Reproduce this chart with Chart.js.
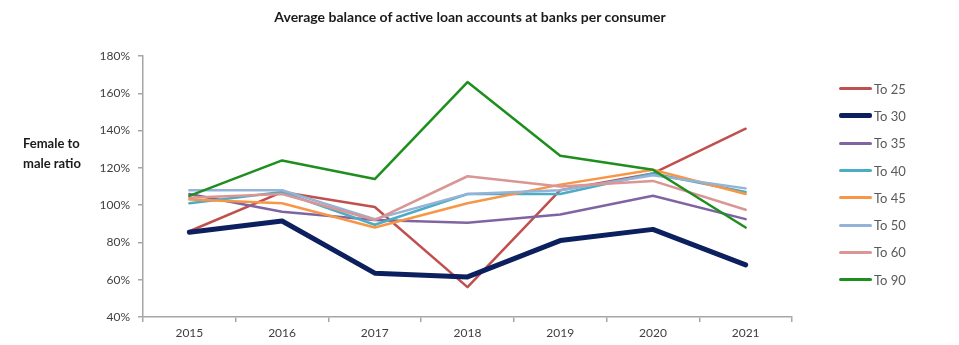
<!DOCTYPE html>
<html>
<head>
<meta charset="utf-8">
<script src="https://cdn.jsdelivr.net/npm/chart.js@4/dist/chart.umd.min.js"></script>
<style>
  html, body { margin: 0; padding: 0; background: #fff; }
  #wrap { position: relative; width: 959px; height: 345px; font-family: Lato, "Open Sans", sans-serif; }
  #chart { position: absolute; left: 0; top: 0; }
  #title { position: absolute; left: 0; top: 8px; width: 940px; text-align: center; font-weight: bold; font-size: 14px; color: #1a1a1a; }
  #ytitle { position: absolute; left: 23px; top: 133px; font-weight: bold; font-size: 13px; line-height: 20px; color: #1a1a1a; }
  #legend { position: absolute; left: 839px; top: 75px; list-style: none; margin: 0; padding: 0; }
  #legend li { height: 27.3px; display: flex; align-items: center; font-size: 13px; color: #595959; }
  #legend .swatch { width: 33px; margin-right: 2px; border-radius: 2px; }
</style>
</head>
<body>
<div id="wrap">
  <canvas id="chart" width="959" height="345"></canvas>
  <div id="title">Average balance of active loan accounts at banks per consumer</div>
  <div id="ytitle">Female to<br>male ratio</div>
  <ul id="legend"></ul>
</div>
<script>
const years = ["2015", "2016", "2017", "2018", "2019", "2020", "2021"];

const seriesNames = ["To 25", "To 30", "To 35", "To 40", "To 45", "To 50", "To 60", "To 90"];

// female to male ratio, in percent
const to25 = [86, 107, 99, 56, 108, 117, 141];
const to30 = [85.5, 91.5, 63.5, 61.5, 81, 87, 68];
const to35 = [106, 96.5, 92, 90.5, 95, 105, 92.5];
const to40 = [101, 107, 89.5, 106, 106, 117, 107];
const to45 = [103, 101, 88, 101, 111, 119, 106];
const to50 = [108, 108, 92.5, 106, 108, 116, 109];
const to60 = [104, 106, 92, 115.5, 110, 113, 97.5];
const to90 = [105, 124, 114, 166, 126.5, 119, 88];

const yTicks = [40, 60, 80, 100, 120, 140, 160, 180];

const seriesValues = [to25, to30, to35, to40, to45, to50, to60, to90];
const colors = ["#C0504D", "#0C1F5E", "#8064A2", "#4BACC6", "#F79646", "#95B3D7", "#D99694", "#1E8F1E"];
const widths = [2.5, 5, 2.5, 2.5, 2.5, 2.5, 2.5, 2.5];

const datasets = seriesNames.map((name, i) => ({
	label: name,
	data: seriesValues[i],
	borderColor: colors[i],
	backgroundColor: colors[i],
	borderWidth: widths[i],
	pointRadius: 0,
	tension: 0,
	borderJoinStyle: "round",
	borderCapStyle: "round",
	fill: false,
	// later series sit on top
	order: seriesNames.length - i,
}));

const axisGray = "#A6A6A6";
const tickFont = { family: "Lato", size: 12 };

const config = {
	type: "line",
	data: { labels: years, datasets },
	options: {
		responsive: false,
		animation: false,
		layout: {
			padding: { left: 83, right: 167, top: 56, bottom: 4 },
		},
		plugins: {
			legend: { display: false },
			tooltip: { enabled: false },
		},
		scales: {
			x: {
				offset: true,
				grid: {
					offset: true,
					drawOnChartArea: false,
					drawTicks: true,
					tickLength: 5,
					color: axisGray,
					lineWidth: 1.5,
				},
				border: { color: axisGray, width: 1.5 },
				ticks: { color: "#404040", font: tickFont, padding: 4, maxRotation: 0 },
				afterFit: (scale) => { scale.height = 24; },
			},
			y: {
				min: yTicks[0],
				max: yTicks[yTicks.length - 1],
				afterBuildTicks: (scale) => { scale.ticks = yTicks.map(v => ({ value: v })); },
				grid: {
					drawOnChartArea: false,
					drawTicks: true,
					tickLength: 5,
					color: axisGray,
					lineWidth: 1.5,
				},
				border: { color: axisGray, width: 1.5 },
				ticks: {
					color: "#404040",
					font: tickFont,
					padding: 8,
					callback: (v) => v + "%",
				},
				afterFit: (scale) => { scale.width = 60; },
			},
		},
	},
};

const chart = new Chart(document.getElementById("chart"), config);

// legend list built from the datasets
const legend = document.getElementById("legend");
chart.data.datasets.forEach((ds) => {
	const li = document.createElement("li");
	const sw = document.createElement("span");
	sw.className = "swatch";
	sw.style.height = (ds.borderWidth >= 4 ? 5 : 3) + "px";
	sw.style.background = ds.borderColor;
	li.appendChild(sw);
	li.appendChild(document.createTextNode(ds.label));
	legend.appendChild(li);
});
</script>
</body>
</html>
